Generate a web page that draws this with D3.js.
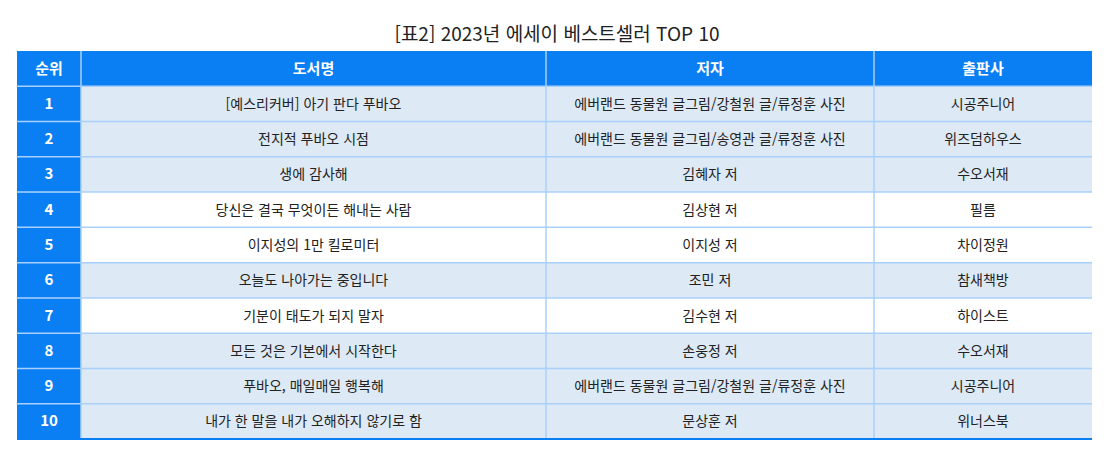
<!DOCTYPE html>
<html lang="ko">
<head>
<meta charset="UTF-8">
<script src="https://d3js.org/d3.v7.min.js"></script>
<style>
  body { margin: 0; background: #fff; font-family: 'Noto Sans CJK KR', 'Noto Sans', sans-serif; }
</style>
</head>
<body>
<svg id="chart" width="1114" height="460"></svg>
<script>
  const title = "[표2] 2023년 에세이 베스트셀러 TOP 10";
  const headers = ["순위", "도서명", "저자", "출판사"];
  const ranks = ["1","2","3","4","5","6","7","8","9","10"];
  const books = ["[예스리커버] 아기 판다 푸바오", "전지적 푸바오 시점", "생에 감사해", "당신은 결국 무엇이든 해내는 사람",
    "이지성의 1만 킬로미터", "오늘도 나아가는 중입니다", "기분이 태도가 되지 말자", "모든 것은 기본에서 시작한다",
    "푸바오, 매일매일 행복해", "내가 한 말을 내가 오해하지 않기로 함"];
  const authors = ["에버랜드 동물원 글그림/강철원 글/류정훈 사진", "에버랜드 동물원 글그림/송영관 글/류정훈 사진", "김혜자 저",
    "김상현 저", "이지성 저", "조민 저", "김수현 저", "손웅정 저", "에버랜드 동물원 글그림/강철원 글/류정훈 사진", "문상훈 저"];
  const publishers = ["시공주니어", "위즈덤하우스", "수오서재", "필름", "차이정원", "참새책방", "하이스트", "수오서재", "시공주니어", "위너스북"];
  const whiteRows = ["4", "5", "7"];

  const colEdges = [17, 81, 546, 874, 1092];
  const svg = d3.select("#chart");
  const blue = "#0a7ff4", light = "#dde9f5", line = "#a9d0fa";

  svg.append("text").attr("x", 557).attr("y", 41).attr("text-anchor", "middle")
    .attr("font-size", 19).attr("fill", "#222").text(title);

  const y = d3.scaleBand().domain(["h", ...ranks]).range([51, 439]).padding(0);
  const rows = ranks.map((r, i) => [r, books[i], authors[i], publishers[i]]);

  // header
  headers.forEach((h, c) => {
    svg.append("rect").attr("x", colEdges[c]).attr("y", y("h"))
      .attr("width", colEdges[c + 1] - colEdges[c]).attr("height", y.bandwidth()).attr("fill", blue);
    svg.append("text").attr("x", (colEdges[c] + colEdges[c + 1]) / 2).attr("y", y("h") + y.bandwidth() / 2 + 5.5)
      .attr("text-anchor", "middle").attr("font-size", 15).attr("font-weight", 700).attr("fill", "#fff").text(h);
  });

  rows.forEach(row => {
    const ry = y(row[0]);
    row.forEach((v, c) => {
      const isRank = c === 0;
      svg.append("rect").attr("x", colEdges[c]).attr("y", ry)
        .attr("width", colEdges[c + 1] - colEdges[c]).attr("height", y.bandwidth())
        .attr("fill", isRank ? blue : (whiteRows.includes(row[0]) ? "#fff" : light));
      svg.append("text").attr("x", (colEdges[c] + colEdges[c + 1]) / 2).attr("y", ry + y.bandwidth() / 2 + 5)
        .attr("text-anchor", "middle").attr("font-size", isRank ? 15 : 14)
        .attr("font-weight", isRank ? 700 : 400).attr("fill", isRank ? "#fff" : "#222").text(v);
    });
  });

  // grid lines
  const g = svg.append("g").attr("stroke", line).attr("stroke-width", 1.5);
  y.domain().slice(1).forEach(k => g.append("line").attr("x1", 17).attr("x2", 1092).attr("y1", y(k)).attr("y2", y(k)));
  colEdges.slice(1, -1).forEach(x => g.append("line").attr("x1", x).attr("x2", x).attr("y1", 51).attr("y2", 439));
  svg.append("line").attr("x1", 17).attr("x2", 1092).attr("y1", 439).attr("y2", 439)
    .attr("stroke", blue).attr("stroke-width", 2);
</script>
</body>
</html>
